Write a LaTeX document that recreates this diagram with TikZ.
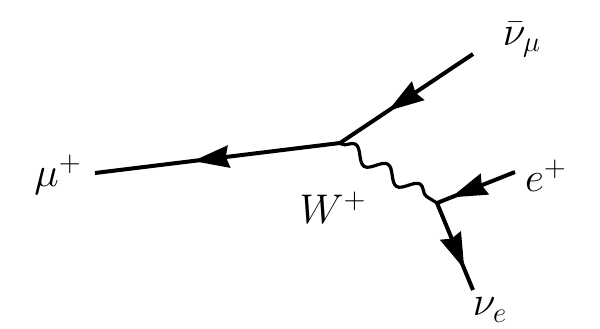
\documentclass[tikz,border=0pt]{standalone}
\usetikzlibrary{arrows.meta,decorations.markings,decorations.pathmorphing}
\begin{document}
\begin{tikzpicture}[x=0.5pt,y=-0.5pt,
  fermion/.style={line width=2pt,postaction={decorate},
    decoration={markings,mark=at position #1 with {\arrow{Stealth[length=18pt,width=11pt,inset=1.5pt]}}}},
  boson/.style={line width=1.6pt,decorate,decoration={snake,segment length=19pt,amplitude=3.6pt,pre length=1pt,post length=1pt}},
  lbl/.style={font=\huge,inner sep=0pt}]
\useasboundingbox (0,0) rectangle (600,328);
\coordinate (v1) at (340,143);
\coordinate (v2) at (437,203);
\coordinate (mu) at (95,173);
\coordinate (numu) at (473,54);
\coordinate (ep) at (515,172);
\coordinate (nue) at (473,290);
\draw[fermion=0.6] (v1) -- (mu);
\draw[fermion=0.64] (numu) -- (v1);
\draw[fermion=0.82] (ep) -- (v2);
\draw[fermion=0.76] (v2) -- (nue);
\draw[boson] (v1) -- (v2);
\node[lbl] (lmu) at (58,175) {$\mu^+$};
\node[lbl] (lnumu) at (522,40) {$\bar\nu_\mu$};
\node[lbl] (lep) at (546,176) {$e^+$};
\node[lbl] (lw) at (333,208) {$W^+$};
\node[lbl] (lnue) at (490,310) {$\nu_e$};
\end{tikzpicture}
\end{document}
